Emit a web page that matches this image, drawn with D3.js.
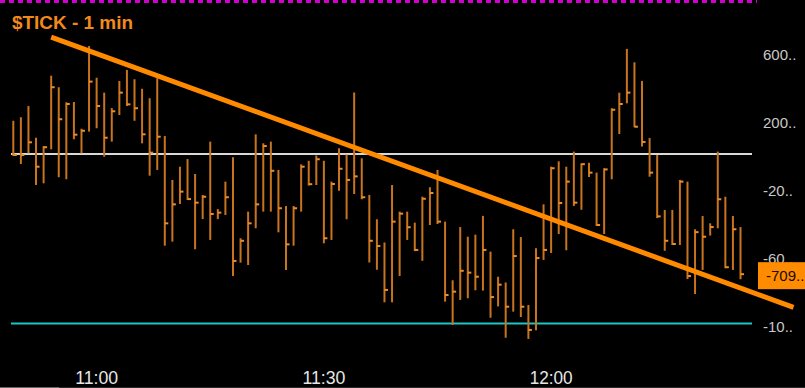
<!DOCTYPE html>
<html><head><meta charset="utf-8">
<script src="https://cdn.jsdelivr.net/npm/d3@7"></script>
<style>html,body{margin:0;padding:0;background:#000;overflow:hidden}svg{display:block}</style>
</head><body>
<script>
const title = "$TICK - 1 min";
const startTime = "10:49";
const highs = [196,217,283,96,47,462,394,305,307,149,
637,450,362,271,431,496,441,385,329,447,
106,-153,-75,-30,-118,-242,73,-325,-163,-19,
-497,-340,116,63,73,-94,-307,-307,-61,-40,
-9,-40,-163,34,-3,363,-25,-242,-385,-522,
-183,-340,-340,-405,-252,-196,-94,-399,-745,-431,
-488,-476,-365,-576,-724,-758,-444,-490,-891,-556,
-297,-75,-43,-75,14,-55,-51,-110,-84,270,
362,620,541,431,94,-6,-330,-330,-153,-163,
-444,-366,-409,14,-252,-366,-431];
const lows = [-12,-59,4,-183,-173,28,-137,-149,87,4,
132,152,-16,73,230,283,196,63,-128,-94,
-541,-517,-295,-271,-562,-384,-507,-384,-360,-720,
-641,-655,-438,-340,-340,-462,-684,-541,-340,-186,
-183,-527,-507,-217,-385,-236,-267,-640,-683,-875,
-875,-720,-507,-573,-630,-419,-413,-871,-1009,-861,
-851,-804,-806,-966,-899,-1084,-930,-962,-1091,-1040,
-625,-584,-472,-568,-307,-329,-136,-425,-472,-149,
118,299,158,44,-134,-378,-571,-537,-537,-738,
-826,-684,-481,-438,-674,-684,-739];
const closes = [-6,-6,69,-75,40,394,205,295,114,137,
427,283,96,252,362,293,270,116,8,102,
-409,-297,-222,-266,-287,-252,-354,-346,-255,-631,
-512,-409,-297,47,-99,-320,-533,-320,-75,-178,
-31,-497,-177,-87,-153,-132,-255,-512,-543,-802,
-399,-352,-432,-566,-264,-230,-399,-832,-812,-689,
-700,-724,-566,-844,-771,-901,-602,-901,-1038,-614,
-566,-84,-289,-163,-287,-60,-110,-419,-91,261,
295,362,161,71,-110,-368,-512,-531,-163,-720,
-461,-488,-431,-267,-668,-444,-709];
const yTicks = [600, 200, -200, -600, -1000];
const timeTicks = ["11:00", "11:30", "12:00"];
const refLines = [0, -1000];          // white zero line, cyan lower line
const trendTimes = ["10:54", "12:32"];
const trendValues = [690, -905];
const lastLabel = "-709...";

const W = 805, H = 388;
const parse = d3.timeParse("%H:%M");
const t0 = parse(startTime);
const data = highs.map((h, i) => ({t: d3.timeMinute.offset(t0, i), h, l: lows[i], c: closes[i]}));

const x = d3.scaleTime().domain([t0, d3.timeMinute.offset(t0, highs.length - 1)]).range([13.3, 740.5]);
const y = d3.scaleLinear().domain([0, -1000]).range([154, 323.5]);

const svg = d3.select("body").append("svg").attr("width", W).attr("height", H);
svg.append("rect").attr("width", W).attr("height", H).attr("fill", "#000");

// top magenta dotted border
svg.append("line").attr("x1", 0).attr("x2", 757).attr("y1", 1.5).attr("y2", 1.5)
  .attr("stroke", "#d000d0").attr("stroke-width", 3).attr("stroke-dasharray", "5,4");
// bottom border
svg.append("line").attr("x1", 0).attr("x2", W).attr("y1", 387.5).attr("y2", 387.5).attr("stroke", "#2a2a2a");
svg.append("line").attr("x1", 0).attr("x2", 59).attr("y1", 387.5).attr("y2", 387.5).attr("stroke", "#666");

const font = "'Liberation Sans Narrow','Arial Narrow','Liberation Sans',Arial,sans-serif";

// title
svg.append("text").attr("x", 12).attr("y", 29).text(title)
  .attr("font-family", font).attr("font-weight", "bold").attr("font-size", 18)
  .attr("fill", "#f28a1b").attr("textLength", 121).attr("lengthAdjust", "spacingAndGlyphs");

// reference lines
svg.selectAll("line.ref").data(refLines).join("line").attr("class", "ref")
  .attr("x1", 11).attr("x2", 752).attr("y1", d => y(d)).attr("y2", d => y(d))
  .attr("stroke", (d, i) => i === 0 ? "#d8d8d8" : "#1fc4c4").attr("stroke-width", 2);

// HLC bars
const g = svg.append("g");
g.selectAll("line.bar").data(data).join("line").attr("class", "bar")
  .attr("x1", d => x(d.t)).attr("x2", d => x(d.t))
  .attr("y1", d => y(d.h)).attr("y2", d => y(d.l))
  .attr("stroke", "#c8741f").attr("stroke-width", 2);
g.selectAll("line.cl").data(data).join("line").attr("class", "cl")
  .attr("x1", d => x(d.t)).attr("x2", d => x(d.t) + 3.5)
  .attr("y1", d => y(d.c)).attr("y2", d => y(d.c))
  .attr("stroke", "#ee8c26").attr("stroke-width", 2);

// trend line
svg.append("line")
  .attr("x1", x(parse(trendTimes[0]))).attr("y1", y(trendValues[0]))
  .attr("x2", x(parse(trendTimes[1]))).attr("y2", y(trendValues[1]))
  .attr("stroke", "#ff8a00").attr("stroke-width", 5);

// right axis labels
svg.selectAll("text.yl").data(yTicks).join("text").attr("class", "yl")
  .attr("x", 763).attr("y", d => y(d) + 8)
  .text(d => String(d).slice(0, 3) + "..")
  .attr("font-family", font).attr("font-size", 15).attr("fill", "#c8c8c8");

// last value box
const ly = y(closes[closes.length - 1]);
svg.append("rect").attr("x", 758).attr("y", ly - 12).attr("width", 47).attr("height", 27).attr("fill", "#ff8c00");
svg.append("text").attr("x", 766).attr("y", ly + 7).text(lastLabel)
  .attr("font-family", font).attr("font-size", 15).attr("fill", "#1a0a00");

// time axis labels
svg.selectAll("text.tl").data(timeTicks).join("text").attr("class", "tl")
  .attr("x", d => x(parse(d))).attr("y", 384).attr("text-anchor", "middle")
  .text(d => d)
  .attr("font-family", font).attr("font-size", 19).attr("fill", "#e6e6e6")
  .attr("textLength", 43).attr("lengthAdjust", "spacingAndGlyphs");
</script>
</body></html>
